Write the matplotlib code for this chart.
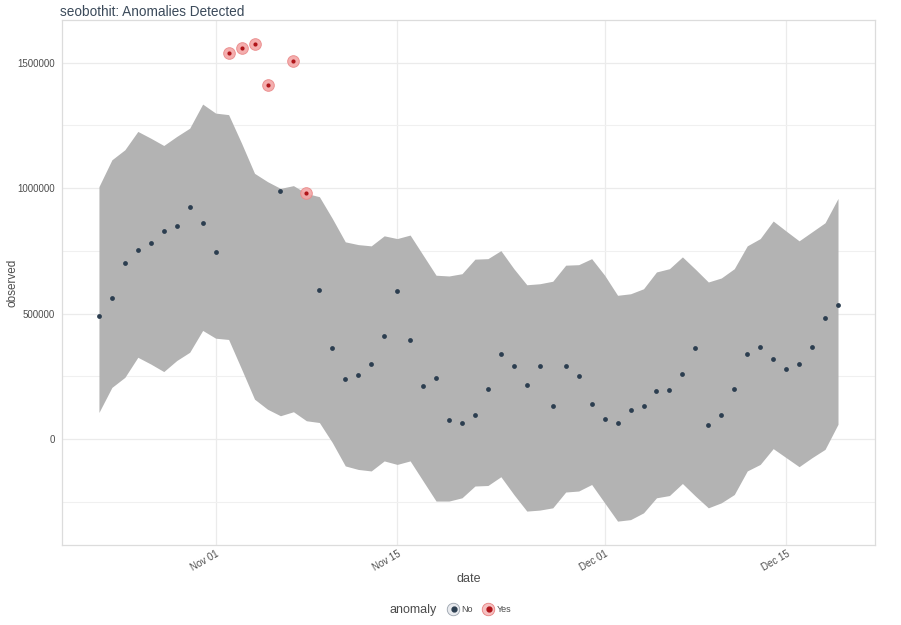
import matplotlib
matplotlib.use("Agg")
import matplotlib.pyplot as plt
import matplotlib.dates as mdates
from matplotlib.lines import Line2D
from matplotlib.legend_handler import HandlerTuple
from matplotlib.offsetbox import HPacker
import numpy as np
import pandas as pd

plt.rcParams['font.family'] = ['Liberation Sans', 'DejaVu Sans']

# ---- data ----
start_date = "2018-10-23"
n_days = 58
observed = [489000, 562000, 703000, 753000, 781000, 831000, 850000, 926000, 863000, 746000,
            1537000, 1559000, 1575000, 1411000, 989000, 1505000, 979000, 593000, 362000, 241000,
            255000, 299000, 410000, 590000, 393000, 213000, 242000, 77000, 65000, 95000,
            198000, 339000, 290000, 214000, 293000, 130000, 290000, 253000, 139000, 81000,
            63000, 115000, 130000, 190000, 194000, 258000, 363000, 57000, 97000, 201000,
            338000, 367000, 319000, 279000, 298000, 366000, 482000, 535000]
anomaly = ["No"] * 10 + ["Yes", "Yes", "Yes", "Yes", "No", "Yes", "Yes"] + ["No"] * 41
recomposed_l2 = [1006000, 1113000, 1153000, 1226000, 1199000, 1170000, 1206000, 1239000, 1335000, 1299000,
                 1293000, 1179000, 1059000, 1026000, 999000, 1010000, 979000, 966000, 879000, 786000,
                 775000, 770000, 810000, 799000, 813000, 733000, 653000, 650000, 659000, 717000,
                 719000, 751000, 679000, 615000, 619000, 629000, 693000, 695000, 719000, 653000,
                 573000, 579000, 599000, 666000, 679000, 726000, 677000, 626000, 642000, 679000,
                 770000, 799000, 869000, 829000, 790000, 826000, 862000, 959000]
recomposed_l1 = [106000, 206000, 246000, 326000, 299000, 269000, 313000, 346000, 433000, 402000,
                 397000, 279000, 159000, 119000, 93000, 109000, 73000, 66000, -14000, -107000,
                 -121000, -127000, -87000, -101000, -87000, -167000, -247000, -247000, -234000, -187000,
                 -185000, -150000, -221000, -287000, -283000, -274000, -211000, -207000, -181000, -254000,
                 -327000, -321000, -294000, -234000, -225000, -177000, -227000, -274000, -254000, -221000,
                 -127000, -101000, -38000, -74000, -110000, -74000, -41000, 59000]
y_ticks = [0, 500000, 1000000, 1500000]
y_minor = [-250000, 250000, 750000, 1250000]
x_tick_dates = ["2018-11-01", "2018-11-15", "2018-12-01", "2018-12-15"]

dates = pd.date_range(start_date, periods=n_days)
obs = np.array(observed)
is_anom = np.array([a == "Yes" for a in anomaly])

# ---- figure ----
fig = plt.figure(figsize=(9.01, 6.25), dpi=100)
ax = fig.add_axes([0.0688, 0.128, 0.9023, 0.840])

ax.fill_between(dates, recomposed_l1, recomposed_l2, color="#b3b3b3", linewidth=0, zorder=2)

navy = "#2c3e50"
ax.scatter(dates[~is_anom], obs[~is_anom], s=12, color=navy, zorder=4, linewidths=0)
ax.scatter(dates[is_anom], obs[is_anom], s=70, color="#f3a5a5", edgecolors="#ea8a8a",
           linewidths=0.7, zorder=4, alpha=0.9)
ax.scatter(dates[is_anom], obs[is_anom], s=9, color="#b0151a", zorder=5, linewidths=0)

# axis limits with ggplot-like expansion
x0, x1 = mdates.date2num(dates[0]), mdates.date2num(dates[-1])
pad = 0.05 * (x1 - x0)
ax.set_xlim(x0 - pad, x1 + pad)
ymin = min(min(recomposed_l1), obs.min())
ymax = max(max(recomposed_l2), obs.max())
ypad = 0.05 * (ymax - ymin)
ax.set_ylim(ymin - ypad, ymax + ypad)

ax.set_yticks(y_ticks)
ax.set_yticklabels([str(v) for v in y_ticks])
ax.set_yticks(y_minor, minor=True)
ax.set_xticks(mdates.datestr2num(x_tick_dates))
ax.xaxis.set_major_formatter(mdates.DateFormatter("%b %d"))

ax.grid(True, which="major", color="#ebebeb", linewidth=0.9, zorder=0)
ax.grid(True, which="minor", axis="y", color="#f0f0f0", linewidth=0.8, zorder=0)
ax.set_axisbelow(True)
for sp in ax.spines.values():
    sp.set_color("#dcdcdc")
    sp.set_linewidth(0.9)

ax.tick_params(axis="both", which="both", length=0, colors="#4d4d4d", labelsize=7)
ax.tick_params(axis="x", pad=3)
ax.tick_params(axis="y", pad=5)
plt.setp(ax.get_xticklabels(), rotation=30, ha="right", rotation_mode="anchor")

ax.set_xlabel("date", fontsize=9, color="#4d4d4d")
ax.xaxis.set_label_coords(0.5, -0.053)
ax.set_ylabel("observed", fontsize=8.5, color="#4d4d4d")
ax.yaxis.set_label_coords(-0.054, 0.5)
ax.set_title("seobothit: Anomalies Detected", loc="left", fontsize=9.8, color="#3b4a5a", pad=3, x=-0.002)

# legend
h_no = (Line2D([], [], marker="o", linestyle="", markersize=9, markerfacecolor="#e8eaee",
               markeredgecolor="#9aa3ad", markeredgewidth=0.6),
        Line2D([], [], marker="o", linestyle="", markersize=3.5, color=navy))
h_yes = (Line2D([], [], marker="o", linestyle="", markersize=9, markerfacecolor="#f6c0c0",
                markeredgecolor="#e88080", markeredgewidth=0.6),
         Line2D([], [], marker="o", linestyle="", markersize=3.5, color="#b0151a"))
leg = fig.legend([h_no, h_yes], ["No", "Yes"], title="anomaly",
                 handler_map={tuple: HandlerTuple(ndivide=None, pad=-1.0)},
                 loc="center", bbox_to_anchor=(0.5, 0.024), ncol=2, frameon=False,
                 fontsize=6.5, title_fontsize=9, handletextpad=0.3, columnspacing=1.2,
                 handlelength=1.2)
leg.get_title().set_color("#4d4d4d")
for t in leg.get_texts():
    t.set_color("#4d4d4d")
title_box = leg._legend_title_box
handle_box = leg._legend_handle_box
leg._legend_box._children = []
new_box = HPacker(pad=0, sep=8, align="center", children=[title_box, handle_box])
leg._legend_box._children.append(new_box)

fig.savefig("out.png", dpi=100, facecolor="white")
